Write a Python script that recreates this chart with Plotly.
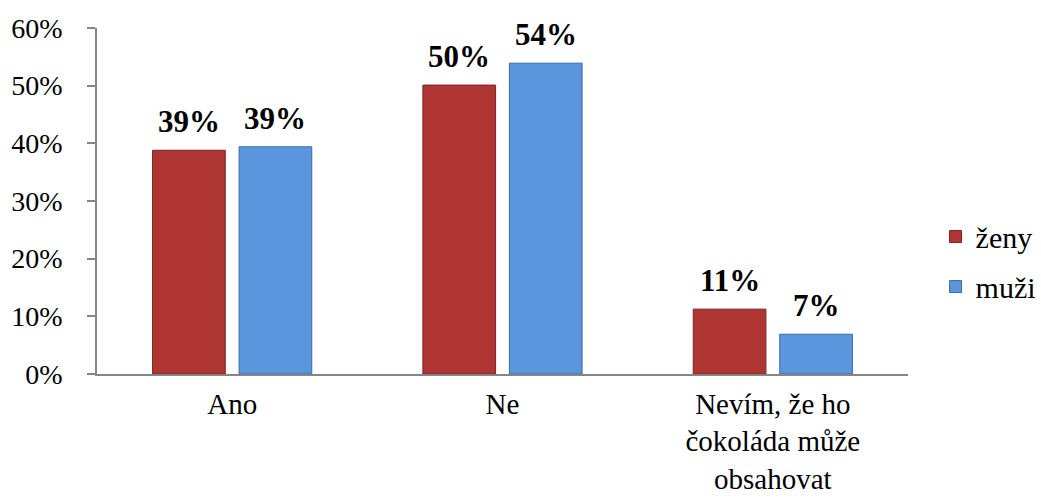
import plotly.graph_objects as go

# Answers and shares per group (percent)
categories = ["Ano", "Ne", "Nevím, že ho<br>čokoláda může<br>obsahovat"]
zeny = [38.8, 50.1, 11.25]
muzi = [39.4, 53.9, 6.9]
series_names = ["ženy", "muži"]
y_ticks = [0, 10, 20, 30, 40, 50, 60]

FONT = "Liberation Serif, Times New Roman, serif"
W, H = 1041, 500
M_L, M_R, M_T, M_B = 97, 133, 28, 126
BARGAP = 0.36
GROUPGAP = 0.16

red = "#AE3532"
blue = "#5B95DD"

fig = go.Figure()
fig.add_trace(go.Bar(
    x=categories, y=zeny, name=series_names[0], legendgroup="z",
    marker=dict(color=red, line=dict(color="#7A2220", width=1)),
))
fig.add_trace(go.Bar(
    x=categories, y=muzi, name=series_names[1], legendgroup="m",
    marker=dict(color=blue, line=dict(color="#3D6AA6", width=1)),
))

# value labels above each bar, shifted to the bar's slot within the group
plot_w = W - M_L - M_R
slot = (1 - BARGAP) * (plot_w / len(categories)) / 2
annotations = []
for vals, shift in ((zeny, -slot / 2), (muzi, slot / 2)):
    for cat, v in zip(categories, vals):
        annotations.append(dict(
            x=cat, y=v, xref="x", yref="y",
            text=f"<b>{round(v)}%</b>", showarrow=False,
            xanchor="center", yanchor="bottom",
            xshift=shift, yshift=9,
            font=dict(family=FONT, size=31, color="black"),
        ))

fig.update_layout(
    width=W, height=H,
    margin=dict(l=M_L, r=M_R, t=M_T, b=M_B, autoexpand=False),
    paper_bgcolor="white", plot_bgcolor="white",
    barmode="group", bargap=BARGAP, bargroupgap=GROUPGAP,
    font=dict(family=FONT, size=28, color="black"),
    showlegend=True,
    legend=dict(
        x=1.034, y=0.325, xanchor="left", yanchor="middle",
        font=dict(family=FONT, size=30, color="black"),
        bgcolor="rgba(0,0,0,0)", itemclick=False,
        tracegroupgap=8,
    ),
    annotations=annotations,
)
fig.update_xaxes(
    showline=True, linecolor="#868686", linewidth=1.5,
    ticks="", showgrid=False, ticklabelstandoff=3,
    tickfont=dict(family=FONT, size=29, color="black"),
)
fig.update_yaxes(
    range=[0, 60], tickvals=y_ticks, ticktext=[f"{t}%" for t in y_ticks],
    showline=True, linecolor="#868686", linewidth=1.5,
    ticks="outside", ticklen=8, tickcolor="#868686", tickwidth=1.5,
    showgrid=False, zeroline=False, ticklabelstandoff=19,
    tickfont=dict(family=FONT, size=28, color="black"),
)

fig.write_html("out.html")
